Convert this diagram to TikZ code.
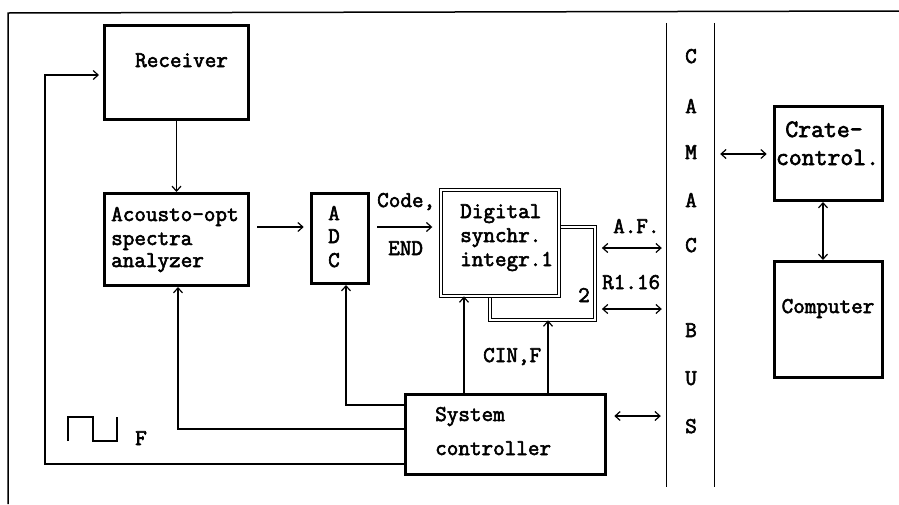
\documentclass[tikz,border=0pt]{standalone}
\usepackage{fontspec}
\newfontfamily\dmfont[FakeBold=2.6]{Latin Modern Mono}
\usetikzlibrary{arrows.meta,calc}

\begin{document}
\begin{tikzpicture}[x=1pt,y=-1pt,
  box/.style={draw, line width=2.8pt, rectangle, inner sep=0pt, fill=white},
  dbox/.style={draw, line width=1.2pt, double=white, double distance=2pt,
    fill=white, rectangle, inner sep=0pt},
  wire/.style={line width=1.2pt},
  arr/.style={wire, -{Straight Barb[length=5pt,width=9pt]}},
  darr/.style={wire, {Straight Barb[length=5pt,width=9pt]}-{Straight Barb[length=5pt,width=9pt]}},
  lbl/.style={font=\dmfont\fontsize{22.5}{24}\selectfont, anchor=base west, inner sep=0pt},
  clbl/.style={lbl, anchor=base},
  blbl/.style={clbl, font=\dmfont\fontsize{25}{27}\selectfont},
]
\useasboundingbox (0,0) rectangle (899,504);
\fill[white] (0,0) rectangle (899,504);

% outer frame
\draw[line width=1.5pt] (8,504) -- (8,13) -- (899,11);

% blocks
\node[box, minimum width=144.2pt, minimum height=94.2pt] (rcv) at (176.5,72.5) {};
\node[box, minimum width=144.2pt, minimum height=92.2pt] (aco) at (176.5,239.5) {};
\node[box, minimum width=57.2pt, minimum height=90.2pt] (adc) at (340,238.5) {};
\node[dbox, minimum width=104.6pt, minimum height=92.6pt] (dsi2) at (542.5,273.5) {};
\node[dbox, minimum width=117.6pt, minimum height=105.6pt] (dsi) at (500,243) {};
\node[box, minimum width=200.2pt, minimum height=80.2pt] (sys) at (505.5,434.5) {};
\node[box, minimum width=108.2pt, minimum height=94.2pt] (crate) at (828.5,153.5) {};
\node[box, minimum width=108.2pt, minimum height=116.2pt] (comp) at (828.5,319.5) {};

% CAMAC bus
\node[minimum width=47pt, minimum height=464pt, inner sep=0pt] (bus) at (690.5,255) {};
\draw[wire] (bus.north west) -- (bus.south west);
\draw[wire] (bus.north east) -- (bus.south east);
\foreach \ch/\yy [count=\i] in {C/63, A/113, M/159, A/207, C/252, B/337, U/385, S/433}
  \node[clbl] (bus\i) at (691,\yy) {\ch};

% block texts
\node[lbl] (trcv) at (135,67) {Receiver};
\node[lbl] (taco1) at (111,221) {Acousto-opt};
\node[lbl] (taco2) at (111,245) {spectra};
\node[lbl] (taco3) at (111,267) {analyzer};
\node[clbl] (tadc1) at (334,220) {A};
\node[clbl] (tadc2) at (334,243) {D};
\node[clbl] (tadc3) at (334,267) {C};
\node[lbl] (tdsi1) at (460,218) {Digital};
\node[lbl] (tdsi2) at (460,242) {synchr.};
\node[lbl] (tdsi3) at (460,266) {integr.1};
\node[lbl] (tdsi4) at (578,302) {2};
\node[lbl] (tsys1) at (435,421) {System};
\node[lbl] (tsys2) at (435,455) {controller};
\node[blbl] (tcr1) at (824,137) {Crate-};
\node[blbl] (tcr2) at (827.5,165) {control.};
\node[clbl] (tcomp) at (828,313) {Computer};

% signal labels
\node[lbl] (lcode) at (377,207) {Code,};
\node[lbl] (lend) at (388,255) {END};
\node[lbl] (laf) at (613,233) {A.F.};
\node[lbl] (lr) at (602,289) {R1.16};
\node[lbl] (lcin) at (483,362) {CIN,F};
\node[lbl] (lf) at (135,445) {F};

% square-wave symbol
\draw[wire] (68,441) -- (68,417) -- (93,417) -- (93,441) -- (117,441) -- (117,417);

% signal paths
\draw[arr] (rcv.south) -- (aco.north);
\draw[arr, shorten <=7.3pt, shorten >=6.3pt] (aco.east |- 0,227) -- (adc.west |- 0,227);
\draw[arr, shorten <=7.3pt, shorten >=8.3pt] (adc.east |- 0,227) -- (dsi.west |- 0,227);
\draw[darr, shorten <=6.5pt, shorten >=5pt] (dsi2.east |- 0,248) -- (bus.west |- 0,248);
\draw[darr, shorten <=6.5pt, shorten >=5pt] (dsi2.east |- 0,309) -- (bus.west |- 0,309);
\draw[darr, shorten <=7.3pt, shorten >=6pt] (sys.east |- 0,416) -- (bus.west |- 0,416);
\draw[darr, shorten <=6pt, shorten >=6.3pt] (bus.east |- 0,154) -- (crate.west |- 0,154);
\draw[darr] (crate.south -| 823,0) -- (comp.north -| 823,0);
\draw[arr] (sys.north -| 464,0) -- (dsi.south -| 464,0);
\draw[arr] (sys.north -| 548,0) -- (dsi2.south -| 548,0);
\draw[arr] (sys.west |- 0,405) -| ([xshift=6pt]adc.south);
\draw[arr] (sys.west |- 0,429) -| ([xshift=1.5pt]aco.south);
\coordinate (fb) at (45,464);
\draw[arr, shorten >=4pt] (sys.west |- fb) -- (fb) |- ([yshift=-2.5pt]rcv.west);
\end{tikzpicture}
\end{document}
